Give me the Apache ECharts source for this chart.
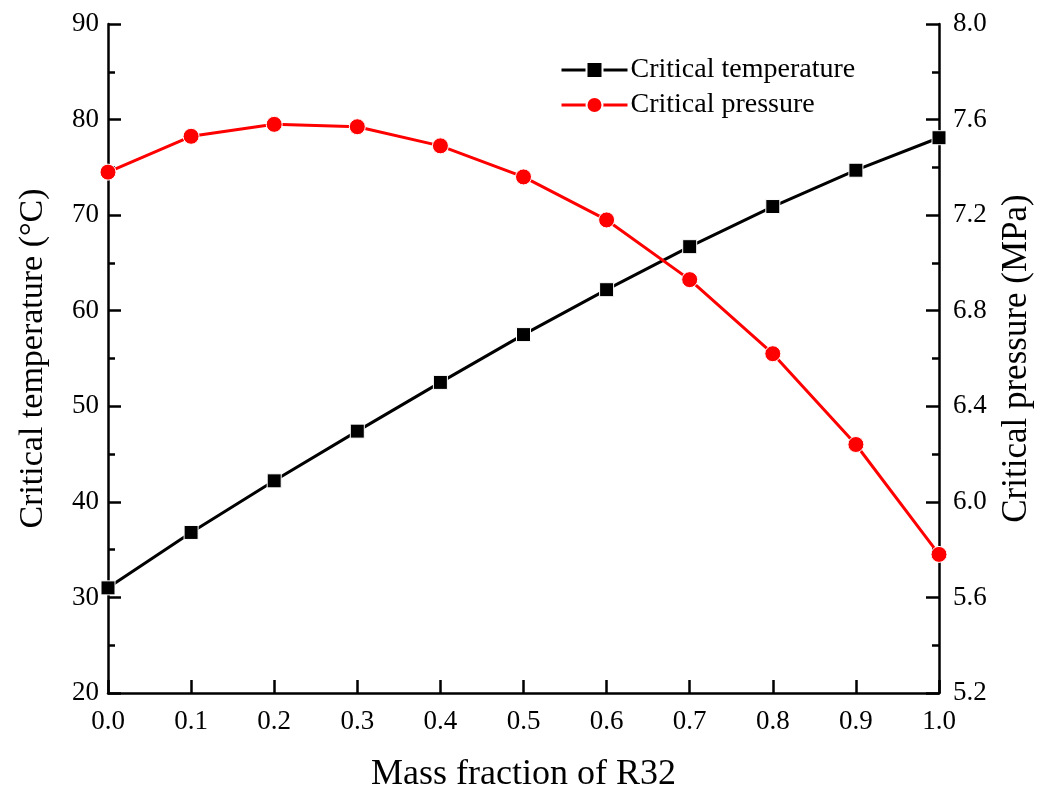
<!DOCTYPE html>
<html>
<head>
<meta charset="utf-8">
<script src="https://cdn.jsdelivr.net/npm/echarts@6/dist/echarts.min.js"></script>
<style>html,body{margin:0;padding:0;background:#fff;}#c{width:1049px;height:789px;}</style>
</head>
<body>
<div id="c"></div>
<script>
const massFraction = [0.0, 0.1, 0.2, 0.3, 0.4, 0.5, 0.6, 0.7, 0.8, 0.9, 1.0];
const criticalTemperature = [31.0, 36.8, 42.2, 47.4, 52.5, 57.5, 62.2, 66.7, 70.9, 74.7, 78.1];
const criticalPressure = [7.38, 7.53, 7.58, 7.57, 7.49, 7.36, 7.18, 6.93, 6.62, 6.24, 5.78];

const font = '"Liberation Serif", "Times New Roman", serif';
const chart = echarts.init(document.getElementById('c'), null, {renderer: 'canvas'});
const axisCommon = {
  axisLine: {show: true, onZero: false, lineStyle: {color: '#000', width: 2.5}},
  axisTick: {show: true, inside: true, length: 13, lineStyle: {color: '#000', width: 2.5}},
  minorTick: {show: true, splitNumber: 2, length: 7, lineStyle: {color: '#000', width: 2.5}},
  splitLine: {show: false},
  axisLabel: {color: '#000', fontFamily: font, fontSize: 27, margin: 10, formatter: v => v.toFixed(1)},
  nameTextStyle: {color: '#000', fontFamily: font, fontSize: 35}
};
chart.setOption({
  animation: false,
  backgroundColor: '#fff',
  grid: {left: 108, right: 110, top: 24, bottom: 96, containLabel: false, outerBoundsMode: 'none'},
  legend: {
    left: 555, top: 51, orient: 'vertical', itemGap: 7, itemWidth: 66, itemHeight: 20,
    lineStyle: {width: 3},
    textStyle: {color: '#000', fontFamily: font, fontSize: 28, padding: [0, 0, 0, -2]},
    data: ['Critical temperature', 'Critical pressure']
  },
  xAxis: Object.assign({}, axisCommon, {
    type: 'value', min: 0, max: 1, interval: 0.1,
    name: 'Mass fraction of R32', nameLocation: 'middle', nameGap: 64,
    nameTextStyle: {color: '#000', fontFamily: font, fontSize: 36},
    minorTick: {show: false},
    axisLabel: Object.assign({}, axisCommon.axisLabel, {margin: 15})
  }),
  yAxis: [
    Object.assign({}, axisCommon, {
      type: 'value', min: 20, max: 90, interval: 10, position: 'left',
      name: 'Critical temperature (°C)', nameLocation: 'middle', nameGap: 58,
      nameTextStyle: {color: '#000', fontFamily: font, fontSize: 34},
      axisLabel: Object.assign({}, axisCommon.axisLabel, {margin: 9, formatter: v => String(v)})
    }),
    Object.assign({}, axisCommon, {
      type: 'value', min: 5.2, max: 8.0, interval: 0.4, position: 'right',
      name: 'Critical pressure (MPa)', nameLocation: 'middle', nameGap: 60, nameRotate: 90,
      axisLabel: Object.assign({}, axisCommon.axisLabel, {margin: 14})
    })
  ],
  series: [
    {
      name: 'Critical temperature', type: 'line', yAxisIndex: 0,
      data: massFraction.map((x, i) => [x, criticalTemperature[i]]),
      symbol: 'rect', symbolSize: 14,
      lineStyle: {color: '#000', width: 3},
      itemStyle: {color: '#000', borderColor: '#fff', borderWidth: 1},
      z: 3
    },
    {
      name: 'Critical pressure', type: 'line', yAxisIndex: 1,
      data: massFraction.map((x, i) => [x, criticalPressure[i]]),
      symbol: 'circle', symbolSize: 16,
      lineStyle: {color: '#ff0000', width: 3},
      itemStyle: {color: '#ff0000', borderColor: '#fff', borderWidth: 1},
      z: 4
    }
  ]
});
</script>
</body>
</html>
